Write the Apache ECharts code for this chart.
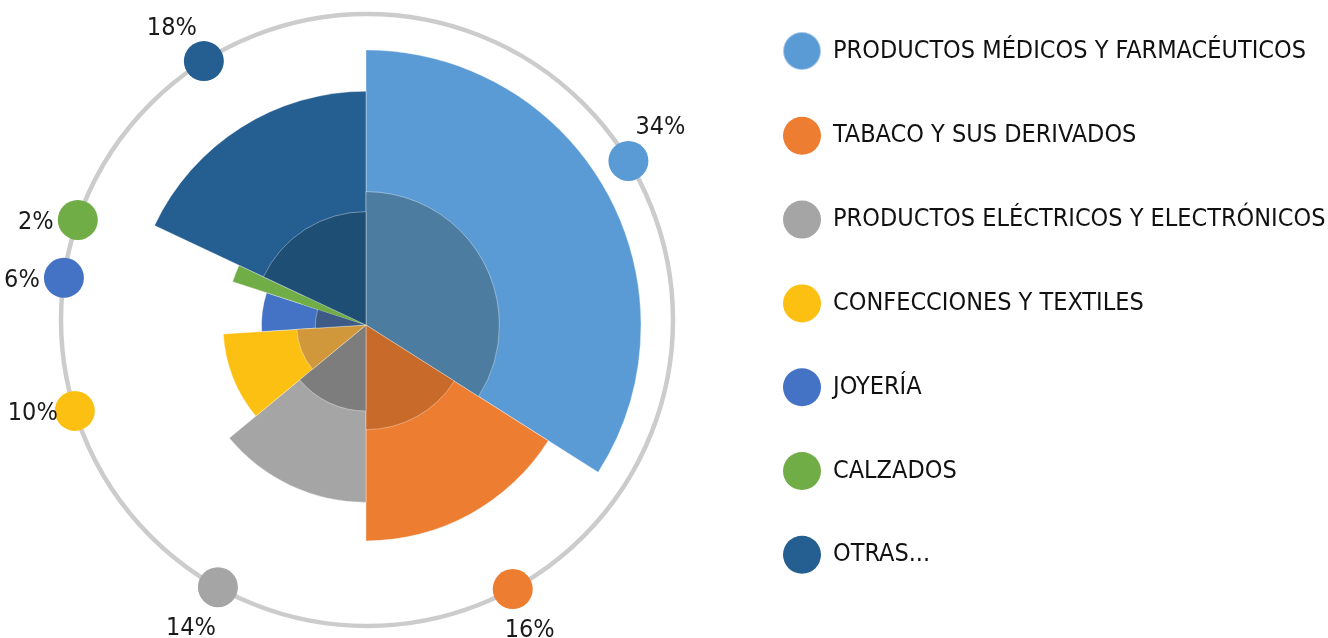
<!DOCTYPE html>
<html>
<head>
<meta charset="utf-8">
<script src="https://cdn.jsdelivr.net/npm/echarts@6/dist/echarts.min.js"></script>
<style>
  html, body { margin: 0; padding: 0; background: #ffffff; }
  #chart { width: 1328px; height: 638px; }
</style>
</head>
<body>
<div id="chart"></div>
<script>
// categorias y porcentajes
const categorias = [
  'PRODUCTOS MÉDICOS Y FARMACÉUTICOS',
  'TABACO Y SUS DERIVADOS',
  'PRODUCTOS ELÉCTRICOS Y ELECTRÓNICOS',
  'CONFECCIONES Y TEXTILES',
  'JOYERÍA',
  'CALZADOS',
  'OTRAS...'
]
const porcentajes = [34, 16, 14, 10, 6, 2, 18]
// largo relativo de cada sector (100 = el mas largo)
const alcance = [100, 78.5, 64.5, 52, 38, 51, 85]
// posicion de cada marcador sobre el anillo (0-100, igual que los porcentajes)
const posicionMarcador = [16.3, 42.1, 58.1, 70.2, 77.2, 80.3, 91.05]

const colores = ['#5b9bd5', '#ed7d31', '#a5a5a5', '#fcc012', '#4472c4', '#70ad47', '#255e91']
const coloresInternos = ['#4c7ca0', '#c86a2a', '#7d7d7d', '#d0983a', '#3e5a86', '#70ad47', '#1f4e75']

const fuente = '"Liberation Sans Narrow", "DejaVu Sans Condensed", "Roboto", sans-serif'
const centroPie = [366, 325]
const radioMax = 275
const fraccionInterna = 0.485

function sectores (i, color, borde) {
  return porcentajes.map(function (v, j) {
    return {
      name: categorias[j],
      value: v,
      itemStyle: j === i
        ? {color: color, borderColor: 'rgba(255,255,255,0.45)', borderWidth: borde}
        : {color: 'transparent', borderWidth: 0}
    }
  })
}

let series = []
// capa exterior
porcentajes.forEach(function (v, i) {
  series.push({
    type: 'pie',
    center: centroPie,
    radius: [0, radioMax * alcance[i] / 100],
    startAngle: 90,
    clockwise: true,
    silent: true,
    label: {show: false},
    labelLine: {show: false},
    z: 2,
    data: sectores(i, colores[i], 0.8)
  })
})
// capa interior mas oscura
porcentajes.forEach(function (v, i) {
  series.push({
    type: 'pie',
    center: centroPie,
    radius: [0, radioMax * alcance[i] / 100 * fraccionInterna],
    startAngle: 90,
    clockwise: true,
    silent: true,
    label: {show: false},
    labelLine: {show: false},
    z: 3,
    data: sectores(i, coloresInternos[i], coloresInternos[i] === colores[i] ? 0 : 0.8)
  })
})

// marcadores sobre el anillo
const marcadores = posicionMarcador.map(function (p, i) {
  const rad = p / 100 * 2 * Math.PI
  const s = Math.sin(rad)
  const c = Math.cos(rad)
  let offset
  if (c > 0.45) {
    offset = [Math.sign(s) * 32, -33]
  } else if (c < -0.45) {
    offset = [s > 0 ? 17 : -27, 41]
  } else {
    offset = [Math.sign(s) * 42, 3]
  }
  return {
    value: [1, p],
    itemStyle: {color: colores[i], opacity: 1},
    label: {offset: offset}
  }
})

series.push({
  type: 'scatter',
  coordinateSystem: 'polar',
  symbol: 'circle',
  symbolSize: 40,
  silent: true,
  z: 5,
  itemStyle: {opacity: 1},
  label: {
    show: true,
    position: 'inside',
    align: 'center',
    verticalAlign: 'middle',
    fontFamily: fuente,
    fontSize: 25,
    color: '#1a1a1a',
    opacity: 1,
    formatter: function (p) { return porcentajes[p.dataIndex] + '%' }
  },
  data: marcadores
})

let myChart = echarts.init(document.getElementById('chart'))
myChart.setOption({
  animation: false,
  polar: {
    center: [367, 320],
    radius: 306
  },
  angleAxis: {
    type: 'value',
    min: 0,
    max: 100,
    startAngle: 90,
    clockwise: true,
    axisLine: {show: true, lineStyle: {color: '#cccccc', width: 4.5}},
    axisTick: {show: false},
    axisLabel: {show: false},
    splitLine: {show: false}
  },
  radiusAxis: {
    type: 'value',
    min: 0,
    max: 1,
    axisLine: {show: false},
    axisTick: {show: false},
    axisLabel: {show: false},
    splitLine: {show: false}
  },
  legend: {
    orient: 'vertical',
    left: 782,
    top: 31,
    padding: 0,
    icon: 'circle',
    itemWidth: 38,
    itemHeight: 38,
    itemGap: 45.8,
    selectedMode: false,
    textStyle: {
      fontFamily: fuente,
      fontSize: 25,
      color: '#111111',
      padding: [0, 0, 0, 7]
    },
    data: categorias.map(function (n, i) {
      return {name: n, itemStyle: {color: colores[i]}}
    })
  },
  series: series
})
</script>
</body>
</html>
